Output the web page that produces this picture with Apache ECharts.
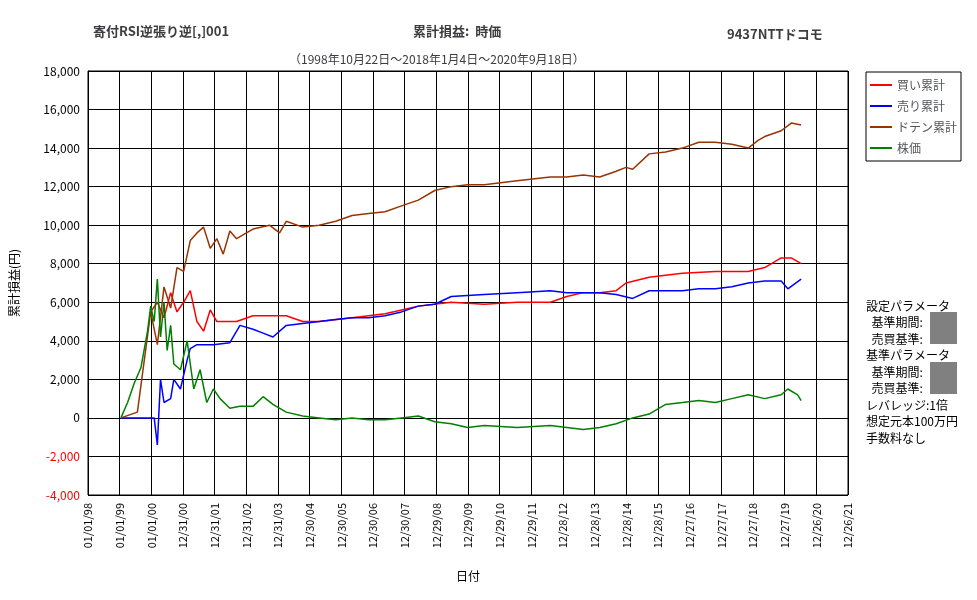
<!DOCTYPE html>
<html><head><meta charset="utf-8">
<script src="https://cdn.jsdelivr.net/npm/echarts@6/dist/echarts.min.js"></script>
<style>html,body{margin:0;background:#fff}#c{width:977px;height:600px}</style>
</head><body><div id="c"></div>
<script>
const xLabels=['01/01/98','01/01/99','01/01/00','12/31/00','12/31/01','12/31/02','12/31/03','12/30/04','12/30/05','12/30/06','12/30/07','12/29/08','12/29/09','12/29/10','12/29/11','12/28/12','12/28/13','12/28/14','12/28/15','12/27/16','12/27/17','12/27/18','12/27/19','12/26/20','12/26/21'];
const buyX=[1.98,2.19,2.40,2.61,2.81,3.02,3.23,3.44,3.65,3.86,4.07,4.69,5.21,6.26,6.78,7.30,8.34,9.38,9.90,10.43,11.47,12.51,13.55,14.6,15.12,15.64,16.16,16.68,16.99,17.72,18.24,18.77,19.81,20.85,21.37,21.89,22.21,22.52];
const buyY=[5500,6000,5200,6500,5500,6000,6600,5000,4500,5600,5000,5000,5300,5300,5000,5000,5200,5400,5600,5800,6000,5900,6000,6000,6300,6500,6500,6600,7000,7300,7400,7500,7600,7600,7800,8300,8300,8000];
const sellX=[1.04,2.09,2.19,2.29,2.40,2.61,2.71,2.92,3.13,3.23,3.44,3.96,4.48,4.80,5.21,5.53,5.84,6.26,6.78,7.30,7.82,8.34,8.86,9.38,9.90,10.43,10.95,11.47,12.51,13.55,14.6,15.12,15.64,16.16,16.68,17.2,17.72,18.24,18.77,19.29,19.81,20.33,20.85,21.37,21.89,22.1,22.52];
const sellY=[0,0,-1400,2000,800,1000,2000,1500,3000,3600,3800,3800,3900,4800,4600,4400,4200,4800,4900,5000,5100,5200,5200,5300,5500,5800,5900,6300,6400,6500,6600,6500,6500,6500,6400,6200,6600,6600,6600,6700,6700,6800,7000,7100,7100,6700,7200];
const dotenX=[1.04,1.56,1.98,2.19,2.40,2.61,2.81,3.02,3.23,3.44,3.65,3.86,4.07,4.27,4.48,4.69,5.21,5.73,6.05,6.26,6.78,7.30,7.82,8.34,8.86,9.38,9.90,10.43,10.95,11.47,11.99,12.51,13.55,14.6,15.12,15.64,16.16,16.68,16.99,17.2,17.72,18.24,18.77,19.29,19.81,20.33,20.85,21.16,21.37,21.89,22.21,22.52];
const dotenY=[0,300,5500,3800,6800,5700,7800,7600,9200,9600,9900,8800,9300,8500,9700,9300,9800,10000,9600,10200,9900,10000,10200,10500,10600,10700,11000,11300,11800,12000,12100,12100,12300,12500,12500,12600,12500,12800,13000,12900,13700,13800,14000,14300,14300,14200,14000,14400,14600,14900,15300,15200];
const stockX=[1.04,1.25,1.46,1.67,1.88,1.98,2.09,2.19,2.29,2.40,2.50,2.61,2.71,2.92,3.13,3.34,3.54,3.75,3.96,4.17,4.48,4.80,5.21,5.53,5.84,6.26,6.78,7.30,7.82,8.34,8.86,9.38,9.90,10.43,10.95,11.47,11.99,12.51,13.55,14.6,15.12,15.64,16.16,16.68,17.2,17.72,18.24,18.77,19.29,19.81,20.33,20.85,21.37,21.89,22.1,22.41,22.52];
const stockY=[0,800,1800,2600,4500,5800,5000,7200,4200,6000,3500,4800,2800,2500,4000,1500,2500,800,1500,1000,500,600,600,1100,700,300,100,0,-100,0,-100,-100,0,100,-200,-300,-500,-400,-500,-400,-500,-600,-500,-300,0,200,700,800,900,800,1000,1200,1000,1200,1500,1200,900];
const pairs=(xs,ys)=>xs.map((x,i)=>[x,ys[i]]);
const F='"Noto Sans CJK JP",sans-serif';
const ch=echarts.init(document.getElementById('c'));
ch.setOption({
 animation:false,
 textStyle:{fontFamily:F,color:'#000'},
 grid:{left:86,top:71,width:762,height:424,show:true,borderColor:'#000',borderWidth:1},
 title:[
  {text:'寄付RSI逆張り逆[,]001',left:88,top:20,textStyle:{fontSize:13,fontWeight:'bold',fontFamily:F}},
  {text:'累計損益:  時価',left:408,top:20,textStyle:{fontSize:13,fontWeight:'bold',fontFamily:F}},
  {text:'9437NTTドコモ',left:722,top:23,textStyle:{fontSize:13,fontWeight:'bold',fontFamily:F}},
  {text:'（1998年10月22日～2018年1月4日～2020年9月18日）',left:284,top:48,textStyle:{fontSize:12,fontWeight:'normal',fontFamily:F}}
 ],
 legend:{orient:'vertical',left:866,top:72,width:92,itemGap:9,padding:[7,4,7,4],borderColor:'#000',borderWidth:1,itemWidth:22,itemHeight:2,icon:'rect',textStyle:{fontSize:12,fontFamily:F},data:['買い累計','売り累計','ドテン累計','株価']},
 xAxis:{type:'value',min:0,max:24,interval:1,name:'日付',nameLocation:'middle',nameGap:75,nameTextStyle:{fontSize:12},
  axisLine:{lineStyle:{color:'#000'}},axisTick:{show:true,length:4,inside:true,lineStyle:{color:'#000'}},
  splitLine:{lineStyle:{color:'#000'}},
  axisLabel:{rotate:90,fontSize:11,color:'#000',formatter:v=>xLabels[Math.round(v)]||''}},
 yAxis:{type:'value',min:-4000,max:18000,interval:2000,name:'累計損益(円)',nameLocation:'middle',nameGap:68,nameRotate:90,nameTextStyle:{fontSize:12},
  axisLine:{show:true,lineStyle:{color:'#000'}},axisTick:{show:false},splitLine:{lineStyle:{color:'#000'}},
  axisLabel:{fontSize:12,formatter:v=>v.toLocaleString('en-US'),color:v=>Number(v)<0?'#f00':'#000'}},
 graphic:[
  {type:'text',left:866,top:298,style:{text:'設定パラメータ\n  基準期間:\n  売買基準:\n基準パラメータ\n  基準期間:\n  売買基準:\nレバレッジ:1倍\n想定元本100万円\n手数料なし',font:'12px '+F,lineHeight:16.5,fill:'#000'}},
  {type:'rect',shape:{x:930,y:312,width:27,height:32},style:{fill:'#808080'}},
  {type:'rect',shape:{x:930,y:362,width:27,height:32},style:{fill:'#808080'}}
 ],
 series:[
  {name:'買い累計',type:'line',showSymbol:false,color:'#ff0000',lineStyle:{width:1.5},data:pairs(buyX,buyY)},
  {name:'売り累計',type:'line',showSymbol:false,color:'#0000ff',lineStyle:{width:1.5},data:pairs(sellX,sellY)},
  {name:'ドテン累計',type:'line',showSymbol:false,color:'#993300',lineStyle:{width:1.5},data:pairs(dotenX,dotenY)},
  {name:'株価',type:'line',showSymbol:false,color:'#008000',lineStyle:{width:1.5},data:pairs(stockX,stockY)}
 ]
});
</script></body></html>
